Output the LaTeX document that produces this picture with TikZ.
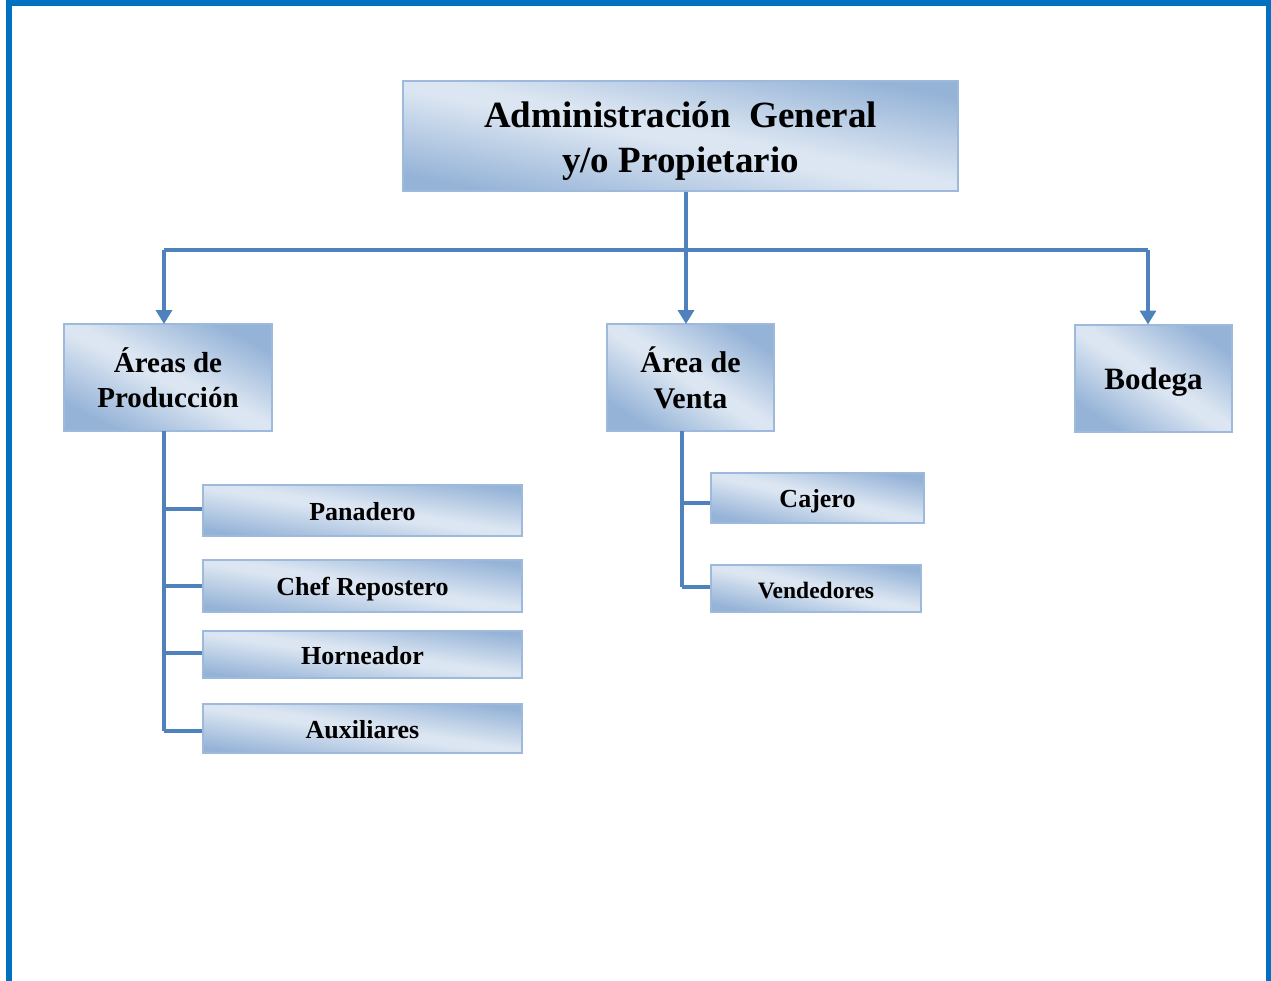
\documentclass[tikz,border=0pt]{standalone}
\usepackage{fontspec}
\setmainfont{Liberation Serif}
\usetikzlibrary{arrows.meta}
\definecolor{frameblue}{HTML}{0070C0}
\definecolor{linkblue}{HTML}{4F81BD}
\definecolor{boxdark}{HTML}{95B3D7}
\definecolor{boxlight}{HTML}{DCE6F2}
\definecolor{boxedge}{HTML}{9DBADD}
\pgfdeclareverticalshading{orgdiag}{100bp}{color(0bp)=(boxdark); color(25bp)=(boxdark); color(48bp)=(boxlight); color(52bp)=(boxlight); color(75bp)=(boxdark); color(100bp)=(boxdark)}
\tikzset{
  orgbox/.style 2 args={draw=boxedge, line width=2pt, inner sep=0pt,
    minimum width=#1pt, minimum height=#2pt, align=center, text=black,
    /utils/exec={\pgfmathsetmacro\organgle{-atan(#2/#1)}},
    shade, shading=orgdiag, shading angle=\organgle},
  onerow/.style={text height=28pt, text depth=8pt},
  link/.style={draw=linkblue, line width=4pt},
  arrowlink/.style={link, -{Triangle[width=16pt,length=14pt]}, shorten >=-1pt},
}
\begin{document}
\begin{tikzpicture}[x=1pt,y=-1pt]
\useasboundingbox (0,0) rectangle (1271,980);
\begin{scope}
\clip (0,0) rectangle (1271,980);
\draw[frameblue, line width=6pt] (9,3) rectangle (1269,1010);
\end{scope}

% boxes
\node[orgbox={555}{110}, font=\fontsize{37}{45}\selectfont\bfseries] (top) at (680.5,136)
  {\rule{0pt}{40pt}Administración\ \ General\\y/o Propietario\rule[-13pt]{0pt}{13pt}};
\node[orgbox={208}{107}, font=\fontsize{29}{35}\selectfont\bfseries] (prod) at (168,377.5)
  {Áreas de\\Producción};
\node[orgbox={167}{107}, font=\fontsize{30}{36}\selectfont\bfseries] (venta) at (690.5,377.5)
  {Área de\\Venta};
\node[orgbox={157}{107}, font=\fontsize{31}{36}\selectfont\bfseries,
  text height=30pt, text depth=8pt] (bodega) at (1153.5,378)
  {Bodega};

\node[orgbox={319}{51}, onerow, font=\fontsize{26}{30}\selectfont\bfseries] (pan) at (362.5,510) {Panadero};
\node[orgbox={319}{52}, onerow, font=\fontsize{26}{30}\selectfont\bfseries] (chef) at (362.5,585.5) {Chef Repostero};
\node[orgbox={319}{47}, onerow, font=\fontsize{26}{30}\selectfont\bfseries] (horn) at (362.5,654) {Horneador};
\node[orgbox={319}{49}, onerow, font=\fontsize{26}{30}\selectfont\bfseries] (aux) at (362.5,728.5) {Auxiliares};

\node[orgbox={213}{50}, onerow, font=\fontsize{26}{30}\selectfont\bfseries] (caj) at (817.5,497.5) {Cajero};
\node[orgbox={210}{47}, onerow, font=\fontsize{23.5}{28}\selectfont\bfseries] (vend) at (816,588) {Vendedores};

% connectors from top
\coordinate (j) at (686,250);
\coordinate (jl) at (164,250);
\coordinate (jr) at (1148,250);
\draw[link] (top.south -| j) -- (j);
\draw[link] (jl) -- (jr);
\draw[arrowlink] (jl) -- (jl |- prod.north);
\draw[arrowlink] (j) -- (j |- venta.north);
\draw[arrowlink] (jr) -- (jr |- bodega.north);

% production trunk
\coordinate (pt) at (164,431);
\coordinate (pb) at (164,731);
\draw[link] (pt) -- (pb);
\draw[link] (164,509) -- (pan.west |- 0,509);
\draw[link] (164,586) -- (chef.west |- 0,586);
\draw[link] (164,653) -- (horn.west |- 0,653);
\draw[link] (pb) -- (aux.west |- pb);

% venta trunk
\coordinate (vt) at (682,431);
\coordinate (vb) at (682,587);
\draw[link] (vt) -- (vb);
\draw[link] (682,503) -- (caj.west |- 0,503);
\draw[link] (vb) -- (vend.west |- vb);
\end{tikzpicture}
\end{document}
